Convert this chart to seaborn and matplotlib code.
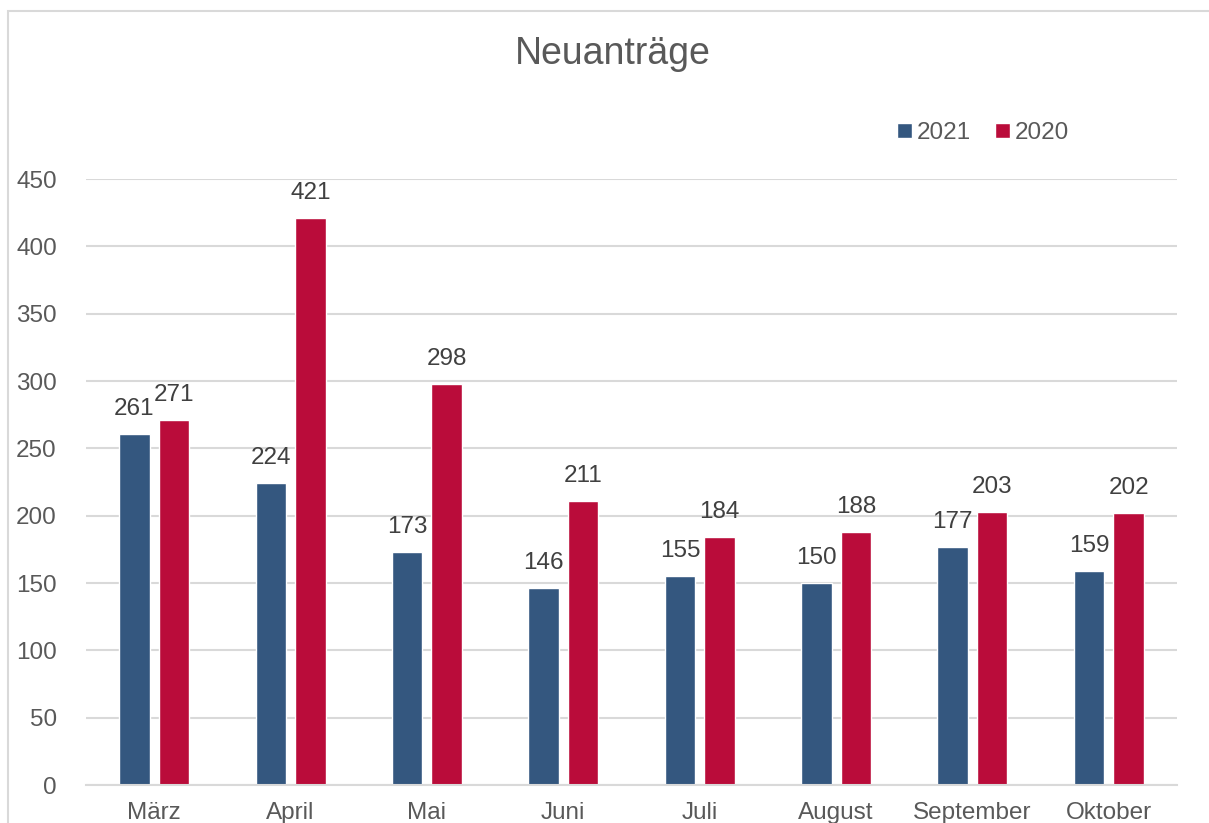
import numpy as np
import pandas as pd
import matplotlib.pyplot as plt
import seaborn as sns
from matplotlib.patches import Rectangle

MONTHS = ['März', 'April', 'Mai', 'Juni', 'Juli', 'August', 'September', 'Oktober']
YEARS = ['2021', '2020']
VALUES_2021 = [261, 224, 173, 146, 155, 150, 177, 159]
VALUES_2020 = [271, 421, 298, 211, 184, 188, 203, 202]
COLORS = {'2021': '#34577F', '2020': '#BA0C3A'}

sns.set_theme(style='white')
plt.rcParams['font.family'] = ['Liberation Sans', 'DejaVu Sans']

df = pd.DataFrame({
    'Monat': MONTHS * 2,
    'Jahr': ['2021'] * len(MONTHS) + ['2020'] * len(MONTHS),
    'Anzahl': VALUES_2021 + VALUES_2020,
})

fig = plt.figure(figsize=(12.09, 8.23), dpi=100)
ax = fig.add_axes([86 / 1209, 38 / 823, 1091 / 1209, 606 / 823])

sns.barplot(data=df, x='Monat', y='Anzahl', hue='Jahr', hue_order=YEARS,
            order=MONTHS, palette=COLORS, width=0.58, gap=0.23,
            saturation=1, ax=ax, legend=True)

for cont in ax.containers:
    ax.bar_label(cont, padding=10, fontsize=17.5, color='#404040')

ax.set_ylim(0, 450)
ax.set_yticks(np.arange(0, 451, 50))
ax.set_xlim(-0.5, len(MONTHS) - 0.5)
ax.yaxis.grid(True, color='#D9D9D9', linewidth=1.5)
ax.set_axisbelow(True)
for s in ['top', 'right', 'left']:
    ax.spines[s].set_visible(False)
ax.spines['bottom'].set_color('#D9D9D9')
ax.spines['bottom'].set_linewidth(1.5)
ax.tick_params(axis='both', length=0, labelsize=17.5, labelcolor='#595959')
ax.tick_params(axis='x', pad=12)
ax.tick_params(axis='y', pad=21)
ax.set_xlabel('')
ax.set_ylabel('')

leg = ax.legend(loc='center', bbox_to_anchor=(983 / 1209, 1 - 133 / 823),
                bbox_transform=fig.transFigure, ncol=2, frameon=False,
                fontsize=17.5, handlelength=0.6, handleheight=0.6,
                handletextpad=0.2, columnspacing=1.0)
for t in leg.get_texts():
    t.set_color('#595959')

fig.text(613 / 1209, 1 - 54 / 823, 'Neuanträge', ha='center', va='center',
         fontsize=27, color='#595959')

fig.patches.append(Rectangle((8 / 1209, -0.1), 1.2, 1 - 11 / 823 + 0.1,
                             transform=fig.transFigure, fill=False,
                             edgecolor='#D9D9D9', linewidth=1.5))

fig.savefig('out.png', dpi=100)
